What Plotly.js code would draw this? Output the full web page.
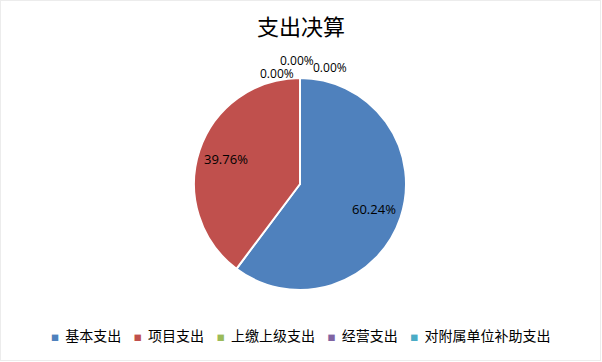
<!DOCTYPE html>
<html>
<head>
<meta charset="utf-8">
<script src="https://cdn.plot.ly/plotly-3.0.1.min.js"></script>
<style>
  html, body { margin: 0; padding: 0; background: #fff; }
  #wrap { position: relative; width: 602px; height: 362px; }
  #frame { position: absolute; left: 0; top: 0; width: 599px; height: 359px; border: 1px solid #ececec; pointer-events: none; }
</style>
</head>
<body>
<div id="wrap">
  <div id="chart" style="width:602px;height:362px;"></div>
  <div id="frame"></div>
</div>
<script>
const categories = ['基本支出', '项目支出', '上缴上级支出', '经营支出', '对附属单位补助支出'];
const values = [60.24, 39.76, 0, 0, 0];
const colors = ['#4F81BD', '#C0504D', '#9BBB59', '#8064A2', '#4BACC6'];
const chartTitle = '支出决算';

const W = 602, H = 362;
const pieCx = 300, pieCy = 184, pieR = 106;   // layout of the pie domain (pixels)

const total = values.reduce((a, b) => a + b, 0);
const pctText = v => (v / total * 100).toFixed(2) + '%';
const labelFont = { family: 'Open Sans, Noto Sans, sans-serif', size: 13, color: '#000000' };

const trace = {
  type: 'pie',
  labels: categories,
  values: values,
  sort: false,
  direction: 'clockwise',
  rotation: 0,
  marker: { colors: colors, line: { color: '#ffffff', width: 2 } },
  textinfo: 'none',
  hoverinfo: 'label+percent',
  showlegend: false,
  domain: { x: [(pieCx - pieR) / W, (pieCx + pieR) / W], y: [1 - (pieCy + pieR) / H, 1 - (pieCy - pieR) / H] }
};

// percentage labels: non-zero slices inside at their mid-angle, zero slices near the top
const annotations = [];
let cum = 0;
const zeroPos = [[277, 73], [297, 60], [330, 67]];
let zk = 0;
values.forEach((v, i) => {
  if (v > 0) {
    const mid = (cum + v / 2) / total * 2 * Math.PI;
    const px = pieCx + 0.74 * pieR * Math.sin(mid);
    const py = pieCy - 0.74 * pieR * Math.cos(mid);
    annotations.push({
      text: pctText(v), xref: 'paper', yref: 'paper',
      x: px / W, y: 1 - py / H, xanchor: 'center', yanchor: 'middle',
      showarrow: false, font: labelFont
    });
  } else {
    const p = zeroPos[zk++];
    annotations.push({
      text: pctText(v), xref: 'paper', yref: 'paper',
      x: p[0] / W, y: 1 - p[1] / H, xanchor: 'center', yanchor: 'middle',
      showarrow: false, font: Object.assign({}, labelFont, { size: 12 })
    });
  }
  cum += v;
});

// legend row built from the categories and colours
const NB = '\u00A0';
const legendText = categories.map((c, i) =>
  `<span style="color:${colors[i]};font-size:8px">■</span>${NB}${NB}${c}`
).join(NB + NB + NB + NB);
annotations.push({
  text: legendText, xref: 'paper', yref: 'paper',
  x: 0.5, y: 1 - 335 / H, xanchor: 'center', yanchor: 'middle',
  showarrow: false,
  font: { family: 'Noto Sans CJK SC, sans-serif', size: 14, color: '#000000' }
});

const layout = {
  width: W,
  height: H,
  margin: { l: 0, r: 0, t: 0, b: 0 },
  paper_bgcolor: '#ffffff',
  title: {
    text: chartTitle,
    font: { family: 'Noto Sans CJK SC, sans-serif', size: 22, color: '#000000' },
    x: 0.5, xanchor: 'center',
    y: 1 - 27 / H, yref: 'container', yanchor: 'middle'
  },
  showlegend: false,
  annotations: annotations
};

Plotly.newPlot('chart', [trace], layout, { displayModeBar: false, staticPlot: true });
</script>
</body>
</html>
